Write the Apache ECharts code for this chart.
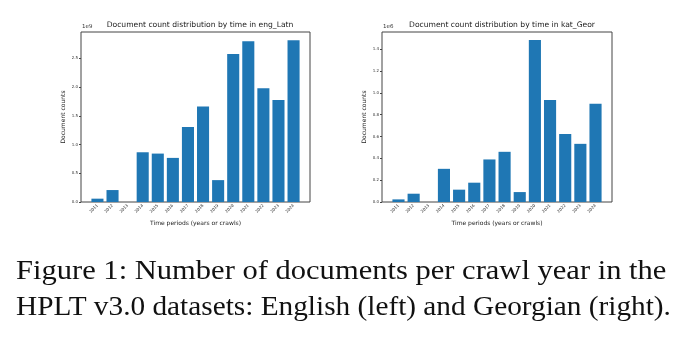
<!DOCTYPE html>
<html>
<head>
<meta charset="utf-8">
<script src="https://cdn.jsdelivr.net/npm/echarts@6/dist/echarts.min.js"></script>
<style>
html,body{margin:0;padding:0;background:#fff;}
#main{width:686px;height:340px;}
</style>
</head>
<body>
<div id="main"></div>
<script>
// years on the x axis, shared by both panels
var years = ["2011","2012","2013","2014","2015","2016","2017","2018","2019","2020","2021","2022","2023","2024"];
// eng_Latn document counts (x 1e9)
var engCounts = [0.058,0.208,0,0.866,0.843,0.768,1.305,1.663,0.381,2.575,2.800,1.980,1.778,2.818];
// kat_Geor document counts (x 1e6)
var katCounts = [0.024,0.076,0,0.304,0.113,0.177,0.390,0.460,0.091,1.485,0.934,0.624,0.533,0.901];

var engData = engCounts.map(function(v){ return v * 1e9; });
var katData = katCounts.map(function(v){ return v * 1e6; });

var sans = "DejaVu Sans";
var axisCol = "#444";
// matplotlib pads the bars by 5% each side, so the bar grid sits inside the frame
var padL = 8.9, padR = 8.9;

function xAxis(idx){
	return {
		type:"category",
		gridIndex:idx,
		data:years,
		name:"Time periods (years or crawls)",
		nameLocation:"middle",
		nameGap:18,
		nameTextStyle:{fontFamily:sans,fontSize:6,color:"#222"},
		axisLine:{show:false},
		axisTick:{alignWithLabel:true,length:2,lineStyle:{color:axisCol}},
		axisLabel:{rotate:45,fontFamily:sans,fontSize:4,color:"#333",margin:3}
	};
}
function yAxis(idx,max,step,div){
	return {
		type:"value",
		gridIndex:idx,
		min:0,
		max:max,
		interval:step,
		offset:padL,
		name:"Document counts",
		nameLocation:"middle",
		nameGap:15,
		nameTextStyle:{fontFamily:sans,fontSize:6,color:"#222"},
		splitLine:{show:false},
		axisLine:{show:false},
		axisTick:{show:true,length:2,lineStyle:{color:axisCol}},
		axisLabel:{showMaxLabel:false,fontFamily:sans,fontSize:4,color:"#333",margin:3,
			formatter:function(v){ return (v/div).toFixed(1); }}
	};
}
function hidden(idx){ return {type:"value",gridIndex:idx,show:false}; }

var myChart = echarts.init(document.getElementById("main"));
var option = {
	backgroundColor:"#fff",
	animation:false,
	title:[
		{text:"Document count distribution by time in eng_Latn",left:195,top:16,textAlign:"center",
			textStyle:{fontFamily:sans,fontSize:7.6,fontWeight:"normal",color:"#222"}},
		{text:"Document count distribution by time in kat_Geor",left:497,top:16,textAlign:"center",
			textStyle:{fontFamily:sans,fontSize:7.6,fontWeight:"normal",color:"#222"}},
		{text:"1e9",left:77,top:19,textStyle:{fontFamily:sans,fontSize:5.5,fontWeight:"normal",color:"#333"}},
		{text:"1e6",left:378,top:19,textStyle:{fontFamily:sans,fontSize:5.5,fontWeight:"normal",color:"#333"}}
	],
	grid:[
		{left:81+padL,top:32,width:229-padL-padR,height:170},
		{left:382+padL,top:32,width:230-padL-padR,height:170},
		{left:81,top:32,width:229,height:170,show:true,borderColor:axisCol,borderWidth:1,backgroundColor:"transparent"},
		{left:382,top:32,width:230,height:170,show:true,borderColor:axisCol,borderWidth:1,backgroundColor:"transparent"}
	],
	xAxis:[xAxis(0),xAxis(1),hidden(2),hidden(3)],
	yAxis:[yAxis(0,2.96e9,0.5e9,1e9),yAxis(1,1.558e6,0.2e6,1e6),hidden(2),hidden(3)],
	series:[
		{type:"bar",xAxisIndex:0,yAxisIndex:0,data:engData,barCategoryGap:"20%",
			itemStyle:{color:"#1f77b4"}},
		{type:"bar",xAxisIndex:1,yAxisIndex:1,data:katData,barCategoryGap:"20%",
			itemStyle:{color:"#1f77b4"}}
	],
	graphic:[
		{type:"text",x:16,y:272,scaleX:1.131,style:{text:"Figure 1: Number of documents per crawl year in the",
			font:"27px 'Liberation Serif'",fill:"#111",align:"left",verticalAlign:"middle"}},
		{type:"text",x:16,y:308,scaleX:1.085,style:{text:"HPLT v3.0 datasets: English (left) and Georgian (right).",
			font:"27px 'Liberation Serif'",fill:"#111",align:"left",verticalAlign:"middle"}}
	]
};
myChart.setOption(option);
</script>
</body>
</html>
